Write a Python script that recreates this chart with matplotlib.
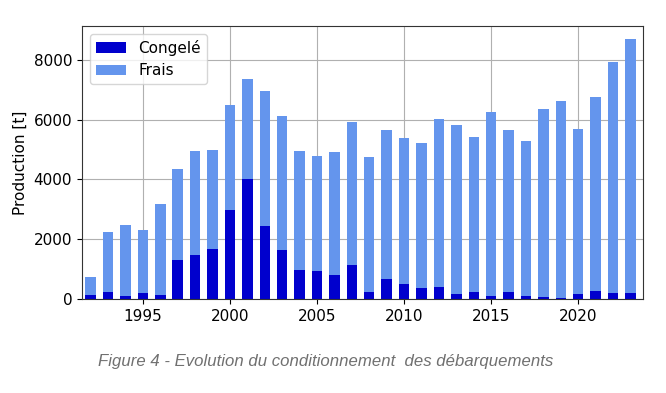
import matplotlib as mpl

mpl.use("Agg")

import matplotlib.pyplot as plt
import numpy as np

years = np.arange(1992, 2024)
congele = [150, 230, 110, 210, 145, 1320, 1470, 1690, 2980, 4020, 2440, 1650,
           980, 930, 790, 1135, 245, 665, 490, 365, 390, 165, 220, 90,
           220, 110, 65, 45, 165, 265, 190, 190]
total = [750, 2230, 2480, 2310, 3170, 4360, 4950, 4980, 6480, 7340, 6950, 6130,
         4950, 4780, 4930, 5920, 4750, 5650, 5395, 5215, 6005, 5820, 5430, 6240,
         5650, 5270, 6360, 6630, 5695, 6750, 7940, 8680]
frais = [t - c for t, c in zip(total, congele)]

fig = plt.figure(figsize=(6.66, 3.93), dpi=100)
ax = fig.add_axes([0.123, 0.239, 0.842, 0.695])

ax.bar(years, congele, width=0.6, color="#0000CD", label="Congelé")
ax.bar(years, frais, width=0.6, bottom=congele, color="#6495ED", label="Frais")

ax.set_xlim(1991.5, 2023.7)
ax.set_ylim(0, 9130)
ax.set_xticks([1995, 2000, 2005, 2010, 2015, 2020])
ax.set_yticks([0, 2000, 4000, 6000, 8000])
ax.tick_params(labelsize=11)
ax.set_ylabel("Production [t]", fontsize=11)
ax.grid(True, color="#b0b0b0", linewidth=0.8)
ax.set_axisbelow(True)
for s in ax.spines.values():
    s.set_color("#333333")
ax.legend(loc="upper left", fontsize=11)

fig.text(0.147, 0.068, "Figure 4 - Evolution du conditionnement  des débarquements",
         fontsize=12.1, style="italic", family="Liberation Sans", color="#707070")

fig.savefig("out.png", dpi=100)
